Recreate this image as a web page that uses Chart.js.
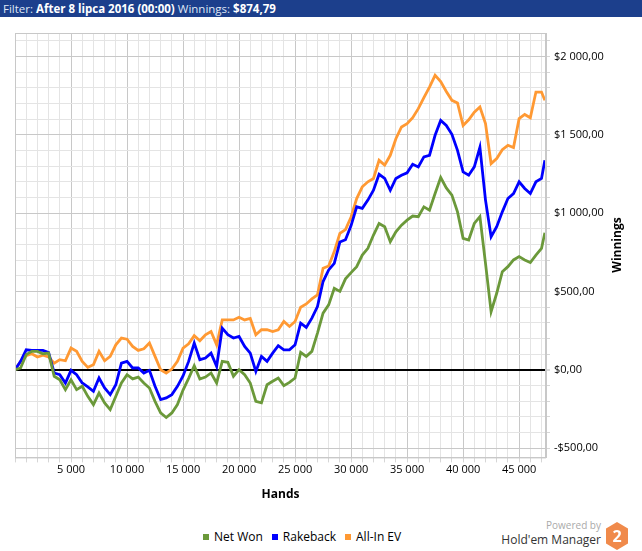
<!DOCTYPE html>
<html>
<head>
<meta charset="utf-8">
<script src="https://cdn.jsdelivr.net/npm/chart.js@4.4.1/dist/chart.umd.min.js"></script>
<style>
  html, body { margin:0; padding:0; background:#fff; width:642px; height:551px; overflow:hidden; font-family:"Open Sans", sans-serif; }
  #hdr { position:absolute; left:0; top:0; width:642px; height:17px; background:#1c3f8c; color:#dfe6f5; font-size:11.5px; line-height:17px; padding-left:3px; box-sizing:border-box; white-space:nowrap; }
  #hdr b { color:#fff; }
  #wrap { position:absolute; left:0; top:17px; width:642px; height:495px; }
  #ytitle { position:absolute; left:616px; top:245px; transform:translate(-50%,-50%) rotate(-90deg); font-weight:bold; font-size:12px; color:#000; white-space:nowrap; }
  #legend { position:absolute; left:203px; top:528px; font-size:12px; color:#000; white-space:nowrap; }
  #legend span.item { margin-right:9px; }
  #legend i { display:inline-block; width:6px; height:6px; margin-right:5px; vertical-align:1px; }
  #pw { position:absolute; right:41px; top:518px; font-size:10px; color:#aaa; text-align:right; }
  #hm { position:absolute; right:41px; top:531px; font-size:12px; color:#333; text-align:right; }
  #logo { position:absolute; left:605px; top:521px; }
</style>
</head>
<body>
<div id="hdr">Filter: <b>After 8 lipca 2016 (00:00)</b> Winnings: <b>$874,79</b></div>
<div id="wrap"><canvas id="c" width="642" height="495"></canvas></div>
<div id="ytitle">Winnings</div>
<div id="legend"></div>
<div id="pw">Powered by</div>
<div id="hm">Hold'em Manager</div>
<svg id="logo" width="24" height="30" viewBox="0 0 24 30">
  <polygon points="12,1 23,7.5 23,22.5 12,29 1,22.5 1,7.5" fill="#f08a4b"/>
  <text x="12" y="21" text-anchor="middle" font-family="Open Sans, sans-serif" font-weight="bold" font-size="16" fill="#fff">2</text>
</svg>
<script>
// ---- data ----
const hands = [0,500,1000,1500,2000,2500,3000,3500,4000,4500,5000,5500,6000,6500,7000,7500,8000,8500,9000,9500,
  10000,10500,11000,11500,12000,12500,13000,13500,14000,14500,15000,15500,16000,16500,17000,17500,18000,18500,19000,19500,
  20000,20500,21000,21500,22000,22500,23000,23500,24000,24500,25000,25500,26000,26500,27000,27500,28000,28500,29000,29500,
  30000,30500,31000,31500,32000,32500,33000,33500,34000,34500,35000,35500,36000,36500,37000,37500,38000,38500,39000,39500,
  40000,40500,41000,41500,42000,42500,43000,43500,44000,44500,45000,45500,46000,46500,47000,47300];

const netWon = [0,11,96,117,117,102,106,-42,-64,-127,-64,-127,-106,-170,-223,-149,-212,-255,-170,-85,
  -32,-59,-47,-85,-117,-202,-276,-305,-276,-223,-130,-55,25,-60,-47,-21,-85,53,47,-42,
  0,-32,-85,-202,-212,-96,-74,-53,-102,-81,-53,110,85,117,234,361,414,520,500,580,
  620,658,732,775,860,934,913,817,881,923,955,981,977,1040,1019,1125,1227,1161,1115,1008,
  839,828,934,977,679,370,488,626,658,701,722,701,684,732,775,875];

const rakeback = [0,53,127,123,123,123,110,-21,-32,-85,-4,-32,-85,-110,-138,-53,-117,-159,-96,42,
  53,11,11,-21,-4,-106,-191,-180,-159,-106,-40,53,170,64,74,106,21,265,223,202,
  212,149,106,-11,85,53,106,153,127,127,159,297,270,329,403,563,637,679,815,830,
  920,1040,1030,1083,1146,1248,1221,1146,1221,1242,1257,1312,1295,1359,1369,1497,1592,1560,1503,1401,
  1263,1242,1295,1420,1083,849,913,1008,1093,1125,1200,1157,1125,1200,1221,1337];

const allInEV = [0,53,89,102,81,93,81,42,64,57,138,117,53,15,32,117,57,85,159,202,
  195,149,123,134,170,85,0,-21,4,53,138,165,217,185,223,244,159,318,318,318,
  335,318,327,223,255,255,244,255,308,276,308,399,420,452,478,648,662,754,870,895,
  975,1093,1168,1200,1221,1337,1306,1369,1475,1550,1571,1609,1667,1737,1805,1880,1840,1777,1720,1703,
  1560,1596,1645,1677,1571,1316,1348,1405,1433,1418,1603,1630,1609,1773,1773,1720];

const seriesNames = ["Net Won", "Rakeback", "All-In EV"];
const seriesColors = ["#6b993a", "#0000ff", "#ff9933"];
const seriesValues = [netWon, rakeback, allInEV];

// axis ranges / tick steps
const xMin = 0, xMax = 47400, xStep = 1000, xLabelStep = 5000;
const yMin = -560, yMax = 2150, yStep = 100, yLabelStep = 500;

// ---- formatting helpers ----
function groupThousands(n) {
  const s = String(Math.abs(Math.round(n)));
  return s.replace(/\B(?=(\d{3})+(?!\d))/g, " ");
}
function fmtMoney(v) {
  return (v < 0 ? "-" : "") + "$" + groupThousands(v) + ",00";
}
function stepTicks(min, max, step) {
  const out = [];
  for (let v = Math.ceil(min / step) * step; v <= max; v += step) out.push({ value: v });
  return out;
}

// ---- legend (HTML) ----
const lg = document.getElementById("legend");
seriesNames.forEach((n, i) => {
  const s = document.createElement("span");
  s.className = "item";
  s.innerHTML = '<i style="background:' + seriesColors[i] + '"></i>' + n;
  lg.appendChild(s);
});

const borderPlugin = {
  id: "plotBorder",
  afterDraw(chart) {
    const a = chart.chartArea, ctx = chart.ctx;
    ctx.save();
    ctx.strokeStyle = "#c8c8c8";
    ctx.lineWidth = 1;
    ctx.strokeRect(a.left + 0.5, a.top + 0.5, a.right - a.left - 1, a.bottom - a.top);
    ctx.restore();
  }
};

const datasets = seriesNames.map((name, i) => ({
  label: name,
  data: hands.map((h, j) => ({ x: h, y: seriesValues[i][j] })),
  borderColor: seriesColors[i],
  backgroundColor: seriesColors[i],
  borderWidth: 2.8,
  pointRadius: 0,
  tension: 0,
  fill: false
}));

new Chart(document.getElementById("c"), {
  type: "line",
  data: { datasets },
  plugins: [borderPlugin],
  options: {
    responsive: false,
    animation: false,
    devicePixelRatio: 1,
    layout: { padding: { left: 15, top: 16, right: 0, bottom: 6 } },
    plugins: { legend: { display: false }, tooltip: { enabled: false } },
    scales: {
      x: {
        type: "linear",
        min: xMin,
        max: xMax,
        afterBuildTicks: s => { s.ticks = stepTicks(xMin, xMax, xStep); },
        grid: {
          color: c => (c.tick && c.tick.value % xLabelStep === 0) ? "#c8c8c8" : "#e4e4e4",
          tickLength: 5,
          tickColor: "#d6d6d6"
        },
        border: { color: "#c8c8c8" },
        ticks: {
          autoSkip: false,
          maxRotation: 0,
          padding: 1,
          color: "#000",
          font: { family: "Open Sans", size: 11 },
          callback: v => (v > 0 && v % xLabelStep === 0) ? groupThousands(v) : ""
        },
        title: {
          display: true,
          text: "Hands",
          color: "#000",
          font: { family: "Open Sans", size: 12, weight: "bold" },
          padding: { top: 10, bottom: 4 }
        }
      },
      y: {
        position: "right",
        min: yMin,
        max: yMax,
        afterBuildTicks: s => { s.ticks = stepTicks(yMin, yMax, yStep); },
        afterFit: s => { s.width = 96; },
        grid: {
          color: c => {
            const v = c.tick ? c.tick.value : 1;
            if (v === 0) return "#000";
            return v % yLabelStep === 0 ? "#c8c8c8" : "#e4e4e4";
          },
          lineWidth: c => (c.tick && c.tick.value === 0) ? 2 : 1,
          tickLength: 4,
          tickColor: "#d6d6d6"
        },
        border: { color: "#c8c8c8" },
        ticks: {
          autoSkip: false,
          padding: 4,
          color: "#000",
          font: { family: "Open Sans", size: 11 },
          callback: v => (v % yLabelStep === 0) ? fmtMoney(v) : ""
        },
        title: { display: false }
      }
    }
  }
});
</script>
</body>
</html>
